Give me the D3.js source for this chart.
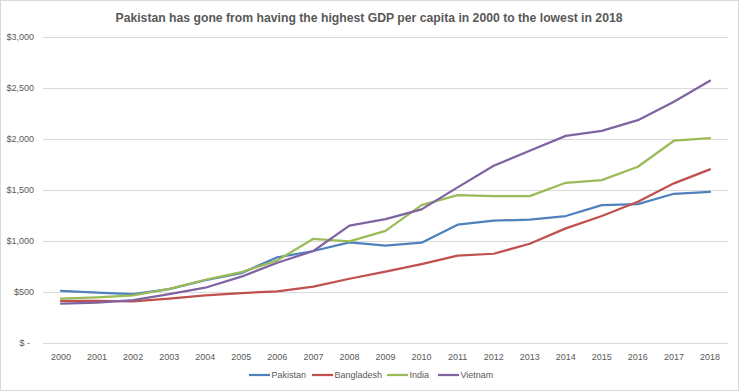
<!DOCTYPE html>
<html><head><meta charset="utf-8">
<script src="https://cdn.jsdelivr.net/npm/d3@7"></script>
<style>body{margin:0;background:#fff}svg{display:block;font-family:"Liberation Sans",Arial,sans-serif}</style>
</head><body>
<svg id="c" width="739" height="391"></svg>
<script>
const years = ["2000","2001","2002","2003","2004","2005","2006","2007","2008","2009","2010","2011","2012","2013","2014","2015","2016","2017","2018"];
const pakistan = [512, 493, 480, 528, 615, 685, 840, 902, 987, 954, 983, 1160, 1199, 1209, 1245, 1352, 1362, 1463, 1482];
const bangladesh = [412, 412, 407, 435, 467, 490, 505, 552, 630, 699, 774, 856, 875, 973, 1124, 1245, 1385, 1565, 1702];
const india = [434, 448, 467, 530, 620, 695, 810, 1022, 997, 1100, 1352, 1450, 1440, 1440, 1571, 1597, 1728, 1983, 2009];
const vietnam = [385, 395, 421, 480, 542, 650, 787, 902, 1150, 1215, 1310, 1526, 1738, 1885, 2031, 2080, 2185, 2365, 2571];
const seriesNames = ["Pakistan","Bangladesh","India","Vietnam"];
const yTicks = [0, 500, 1000, 1500, 2000, 2500, 3000];
const title = "Pakistan has gone from having the highest GDP per capita in 2000 to the lowest in 2018";

const series = [
  {name: seriesNames[0], values: pakistan, color: "#4F81BD"},
  {name: seriesNames[1], values: bangladesh, color: "#C0504D"},
  {name: seriesNames[2], values: india, color: "#9BBB59"},
  {name: seriesNames[3], values: vietnam, color: "#8064A2"}
];

const svg = d3.select("#c");
svg.append("rect").attr("x",0.5).attr("y",0.5).attr("width",738).attr("height",390)
  .attr("fill","#fff").attr("stroke","#d9d9d9");

const x = d3.scaleBand().domain(years).range([43, 728]);
const y = d3.scaleLinear().domain([0, 3000]).range([343, 37]);

// gridlines
svg.append("g").selectAll("line").data(yTicks).join("line")
  .attr("x1", 43).attr("x2", 728)
  .attr("y1", d => Math.round(y(d)) + 0.5).attr("y2", d => Math.round(y(d)) + 0.5)
  .attr("stroke", "#d9d9d9").attr("stroke-width", 1);

const fmt = d => d === 0 ? "$ -" : "$" + d3.format(",")(d);
svg.append("g").selectAll("text").data(yTicks).join("text")
  .attr("x", d => d === 0 ? 30 : 34).attr("y", d => y(d)).attr("dy", "0.35em")
  .attr("text-anchor", "end").attr("font-size", 9).attr("fill", "#595959")
  .text(fmt);

svg.append("g").selectAll("text").data(years).join("text")
  .attr("x", d => x(d) + x.bandwidth()/2).attr("y", 357).attr("dy","0.35em")
  .attr("text-anchor", "middle").attr("font-size", 9).attr("fill", "#595959")
  .text(d => d);

const line = d3.line().x((d,i) => x(years[i]) + x.bandwidth()/2).y(d => y(d));
svg.append("g").selectAll("path").data(series).join("path")
  .attr("d", d => line(d.values)).attr("fill","none")
  .attr("stroke", d => d.color).attr("stroke-width", 2.25)
  .attr("stroke-linejoin","round").attr("stroke-linecap","round");

svg.append("text").attr("x", 369).attr("y", 17).attr("dy","0.35em")
  .attr("text-anchor","middle").attr("font-size", 13.5).attr("font-weight","bold")
  .attr("fill","#595959").attr("textLength", 507).attr("lengthAdjust","spacingAndGlyphs")
  .text(title);

// legend
const legX = [249, 312, 387, 438];
const lg = svg.append("g").selectAll("g").data(series).join("g")
  .attr("transform", (d,i) => `translate(${legX[i]},375)`);
lg.append("line").attr("x1",0).attr("x2",21).attr("y1",0).attr("y2",0)
  .attr("stroke", d => d.color).attr("stroke-width", 2.25);
lg.append("text").attr("x", 22.5).attr("y", 0).attr("dy","0.35em")
  .attr("font-size", 9).attr("fill","#595959").text(d => d.name);
</script>
</body></html>
